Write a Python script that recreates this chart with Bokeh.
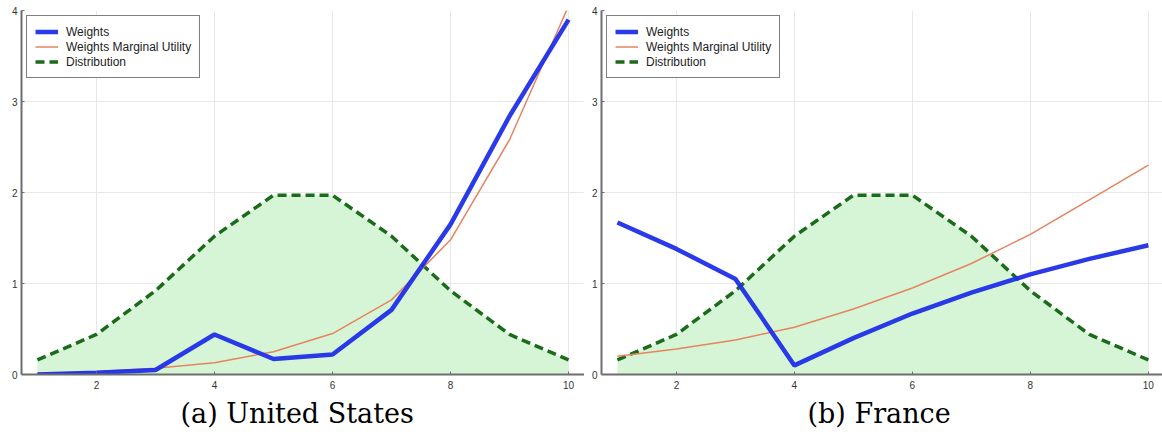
from bokeh.plotting import figure
from bokeh.layouts import row
from bokeh.models import Range1d, FixedTicker, Legend, LegendItem, Title
from bokeh.embed import file_html
from bokeh.resources import INLINE

x = [1, 2, 3, 4, 5, 6, 7, 8, 9, 10]

# United States
us_weights = [0.0, 0.02, 0.05, 0.44, 0.17, 0.22, 0.71, 1.65, 2.84, 3.90]
us_mu = [0.01, 0.03, 0.07, 0.13, 0.25, 0.45, 0.82, 1.48, 2.58, 4.05]

# France
fr_weights = [1.67, 1.38, 1.05, 0.10, 0.40, 0.67, 0.90, 1.10, 1.27, 1.42]
fr_mu = [0.20, 0.28, 0.38, 0.52, 0.72, 0.95, 1.22, 1.54, 1.92, 2.30]

# Distribution (same for both)
dist = [0.16, 0.44, 0.92, 1.52, 1.97, 1.97, 1.52, 0.92, 0.44, 0.16]

x_ticks = [2, 4, 6, 8, 10]
y_ticks = [0, 1, 2, 3, 4]
captions = ["(a) United States", "(b) France"]

BLUE = "#1f2fe8"
ORANGE = "#e5845f"
GREEN = "#1a6b1a"
FILL = "#d6f5d6"


def make_panel(weights, mu, caption, width, border_left, xr, cap_offset):
    p = figure(width=width, height=432, output_backend="svg", toolbar_location=None,
               x_range=Range1d(*xr), y_range=Range1d(0, 4),
               min_border_left=border_left, min_border_right=0,
               min_border_top=10, min_border_bottom=58)
    p.outline_line_color = None
    p.background_fill_color = "white"
    p.border_fill_color = "white"

    p.varea(x=x, y1=[0] * len(x), y2=dist, fill_color=FILL, fill_alpha=1.0)
    r_dist = p.line(x, dist, line_color=GREEN, line_width=3.5, line_dash="9 5")
    r_mu = p.line(x, mu, line_color=ORANGE, line_width=1.5)
    r_w = p.line(x, weights, line_color=BLUE, line_width=4.5, line_alpha=0.95)

    legend = Legend(items=[LegendItem(label="Weights", renderers=[r_w]),
                           LegendItem(label="Weights Marginal Utility", renderers=[r_mu]),
                           LegendItem(label="Distribution", renderers=[r_dist])],
                    location="top_left")
    legend.margin = 5
    legend.padding = 8
    legend.spacing = 0
    legend.label_height = 15
    legend.glyph_height = 15
    legend.glyph_width = 23
    legend.label_standoff = 8
    legend.label_text_font = "Liberation Sans"
    legend.label_text_font_size = "12px"
    legend.label_text_color = "#222222"
    legend.border_line_color = "black"
    legend.border_line_width = 1.5
    legend.background_fill_alpha = 1.0
    p.add_layout(legend)

    for ax in (p.xaxis, p.yaxis):
        ax.axis_line_color = "#6e6e6e"
        ax.axis_line_width = 2
        ax.major_tick_line_color = "#6e6e6e"
        ax.major_tick_in = 3
        ax.major_tick_out = 0
        ax.minor_tick_line_color = None
        ax.major_label_text_font = "Liberation Sans"
        ax.major_label_text_font_size = "10px"
        ax.major_label_text_color = "#333333"
        ax.major_label_standoff = 4
    p.xaxis.major_label_standoff = 6
    p.xaxis.ticker = FixedTicker(ticks=x_ticks)
    p.yaxis.ticker = FixedTicker(ticks=y_ticks)
    p.xgrid.ticker = FixedTicker(ticks=x_ticks)
    p.ygrid.ticker = FixedTicker(ticks=y_ticks)
    p.grid.grid_line_color = "#e8e8e8"
    p.grid.grid_line_width = 1

    p.add_layout(Title(text=caption, align="left", text_font="DejaVu Serif",
                       text_font_size="27px", text_font_style="normal",
                       text_color="black", standoff=8, offset=cap_offset), "below")
    return p


p1 = make_panel(us_weights, us_mu, captions[0], 584, 21, (0.73, 10.27), 159)
p2 = make_panel(fr_weights, fr_mu, captions[1], 578, 17, (0.73, 10.24), 206)

layout = row(p1, p2)
open("out.html", "w").write(file_html(layout, INLINE))
